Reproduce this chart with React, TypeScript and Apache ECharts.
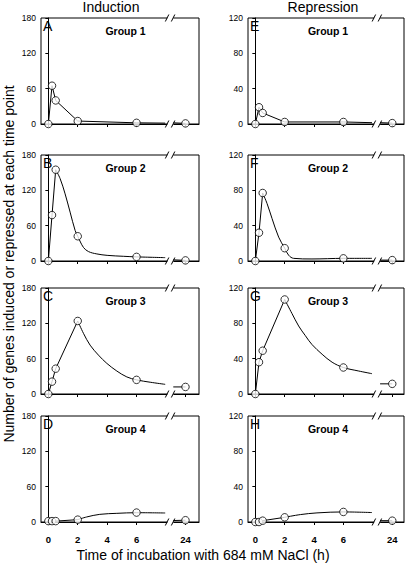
import React, { useEffect, useRef } from 'react';
import * as echarts from 'echarts';

// ---- data ----
const TIMES = [0, 0.25, 0.5, 2, 6, 24];
const X_TICKS = [0, 2, 4, 6, 24];
const COLUMN_TITLES = ['Induction', 'Repression'];
const PANEL_LETTERS = ['A', 'B', 'C', 'D', 'E', 'F', 'G', 'H'];
const GROUP_NAMES = ['Group 1', 'Group 2', 'Group 3', 'Group 4'];
const Y_MAX = [180, 120];
const Y_STEP = [60, 40];

const induction1 = [0, 65, 40, 5, 2, 1];
const induction2 = [0, 78, 155, 42, 7, 1];
const induction3 = [0, 21, 43, 124, 24, 12];
const induction4 = [1.5, 1.5, 1.5, 4, 16, 3];
const repression1 = [0, 19, 12.5, 2.3, 2.3, 1];
const repression2 = [0, 32, 77, 14.5, 3, 1];
const repression3 = [0, 36, 49, 107, 30, 11.5];
const repression4 = [0, 0, 1.5, 5.3, 11.4, 1.5];

// fitted curves: [time, value]
const curveInd1 = [[2, 5], [6, 2], [7.95, 1.5]];
const curveInd2 = [[0.5, 155], [0.8, 140], [1.14, 114], [1.48, 83], [1.82, 52], [2, 42], [2.39, 23], [2.73, 16], [3.3, 12], [4, 9.6], [5.1, 8], [6, 7], [7.95, 5.7]];
const curveInd3 = [[2, 124], [2.39, 103], [2.84, 83], [3.41, 66], [3.98, 52], [4.66, 39], [5.34, 29], [6, 24], [6.93, 20], [7.95, 16.4]];
const curveInd4 = [[2, 4], [2.6, 8.5], [3.5, 13], [4.66, 14.7], [6, 15.8], [7.95, 15.3]];
const curveRep1 = [[2, 2.3], [6, 2.3], [7.95, 1.5]];
const curveRep2 = [[0.5, 77], [0.8, 65], [1.14, 48], [1.59, 27], [2, 14.5], [2.27, 6.5], [2.61, 3], [3.86, 2.3], [6, 3], [7.95, 3]];
const curveRep3 = [[2, 107], [2.5, 91], [2.95, 77], [3.41, 66], [3.86, 56], [4.55, 45], [5.23, 36], [6, 30], [7.05, 26], [7.95, 23]];
const curveRep4 = [[2, 5.3], [3.07, 8.4], [4.2, 10.3], [6, 11.4], [7.95, 10.7]];

// value where the line resumes right after the axis break
const tailStartInd = [2, 2, 12, 2.5];
const tailStartRep = [1.5, 1, 11.5, 1.5];
// number of leading points joined by straight segments
const riseCountInd = [4, 3, 4, 4];
const riseCountRep = [4, 3, 4, 4];
const smoothInd = [false, true, true, true];
const smoothRep = [false, true, true, true];

// ---- layout ----
const POS_24 = 9.33; // plotting position of 24 h beyond the axis break
const BREAK_POS = 8.3;
const TAIL_POS = 8.5;
const FONT = '"Liberation Sans", Arial, Helvetica, sans-serif';
const ROW_TOPS = [18, 155, 288, 416];
const GRID_H = 106;
const COL_LEFT = [41, 248];
const COL_W = [158, 156];
const COL_XMAX = [10.25, 10.13];

const pos = (t: number) => (t === 24 ? POS_24 : t);

const values = [induction1, induction2, induction3, induction4, repression1, repression2, repression3, repression4];
const curves = [curveInd1, curveInd2, curveInd3, curveInd4, curveRep1, curveRep2, curveRep3, curveRep4];
const tailStarts = [...tailStartInd, ...tailStartRep];
const riseCounts = [...riseCountInd, ...riseCountRep];
const smooths = [...smoothInd, ...smoothRep];

export default function App() {
  const ref = useRef<HTMLDivElement>(null);
  useEffect(() => {
    const chart = echarts.init(ref.current!, null, { renderer: 'svg' });
    const grid: any[] = [];
    const xAxis: any[] = [];
    const yAxis: any[] = [];
    const series: any[] = [];
    const graphic: any[] = [];

    for (let i = 0; i < 8; i++) {
      const col = i < 4 ? 0 : 1;
      const row = i % 4;
      grid.push({
        left: COL_LEFT[col], top: ROW_TOPS[row], width: COL_W[col], height: GRID_H,
        show: true, borderColor: '#000', borderWidth: 1, backgroundColor: 'transparent',
      });
      xAxis.push({
        gridIndex: i, type: 'value', min: -0.5, max: COL_XMAX[col],
        axisLine: { show: true, onZero: false, lineStyle: { color: '#000', width: 1 } },
        axisTick: { show: true, inside: false, length: 3, customValues: X_TICKS.map(pos), lineStyle: { color: '#000' } },
        axisLabel: {
          show: row === 3, customValues: X_TICKS.map(pos), margin: 12,
          formatter: (v: number) => (Math.abs(v - POS_24) < 0.01 ? '24' : String(v)),
          fontSize: 9.5, fontWeight: 'bold', color: '#000', fontFamily: FONT,
        },
        splitLine: { show: false },
      });
      yAxis.push({
        gridIndex: i, type: 'value', min: 0, max: Y_MAX[col], interval: Y_STEP[col],
        axisLine: { show: true, lineStyle: { color: '#000', width: 1 } },
        axisTick: { show: true, inside: false, length: 3, lineStyle: { color: '#000' } },
        axisLabel: { fontSize: 8.5, color: '#000', fontFamily: FONT, margin: 5 },
        splitLine: { show: false },
      });
      const v = values[i];
      const rise = TIMES.slice(0, riseCounts[i]).map((t, k) => [pos(t), v[k]]);
      series.push({
        type: 'line', xAxisIndex: i, yAxisIndex: i, data: rise, symbol: 'none', smooth: false,
        lineStyle: { color: '#000', width: 1 }, z: 2,
      });
      series.push({
        type: 'line', xAxisIndex: i, yAxisIndex: i, data: curves[i], symbol: 'none',
        smooth: smooths[i] ? 0.35 : false,
        lineStyle: { color: '#000', width: 1 }, z: 2,
      });
      series.push({
        type: 'line', xAxisIndex: i, yAxisIndex: i, data: [[TAIL_POS, tailStarts[i]], [POS_24, v[5]]],
        symbol: 'none', lineStyle: { color: '#000', width: 1 }, z: 2,
      });
      series.push({
        type: 'custom', xAxisIndex: i, yAxisIndex: i, data: [[BREAK_POS, 0]], clip: false, silent: true, z: 4,
        renderItem: (params: any, api: any) => {
          const cs = params.coordSys;
          const x = api.coord([BREAK_POS, 0])[0];
          const make = (y: number) => [
            { type: 'rect', shape: { x: x - 3, y: y - 1.5, width: 6, height: 3 }, style: { fill: '#fff' } },
            { type: 'line', shape: { x1: x - 5, y1: y + 3.5, x2: x - 1.5, y2: y - 3.5 }, style: { stroke: '#000', lineWidth: 1 } },
            { type: 'line', shape: { x1: x + 1, y1: y + 3.5, x2: x + 4.5, y2: y - 3.5 }, style: { stroke: '#000', lineWidth: 1 } },
          ];
          return { type: 'group', children: [...make(cs.y), ...make(cs.y + cs.height)] };
        },
      });
      series.push({
        type: 'scatter', xAxisIndex: i, yAxisIndex: i, data: TIMES.map((t, k) => [pos(t), v[k]]),
        symbol: 'circle', symbolSize: 7.5,
        itemStyle: { color: '#fff', borderColor: '#000', borderWidth: 1 }, z: 5,
      });
      graphic.push({
        type: 'text', x: COL_LEFT[col] + 2, y: ROW_TOPS[row] + 1,
        style: { text: PANEL_LETTERS[i], fontSize: 14, fill: '#000', fontFamily: FONT, align: 'left', verticalAlign: 'top' },
      });
      graphic.push({
        type: 'text', x: col === 0 ? 125.5 : 328, y: ROW_TOPS[row] + 12.7,
        style: { text: GROUP_NAMES[row], fontSize: 10.5, fontWeight: 'bold', fill: '#000', fontFamily: FONT, align: 'center', verticalAlign: 'middle' },
      });
    }
    graphic.push({
      type: 'text', x: 111, y: 7,
      style: { text: COLUMN_TITLES[0], fontSize: 14, fill: '#000', fontFamily: FONT, align: 'center', verticalAlign: 'middle' },
    });
    graphic.push({
      type: 'text', x: 323, y: 7,
      style: { text: COLUMN_TITLES[1], fontSize: 14, fill: '#000', fontFamily: FONT, align: 'center', verticalAlign: 'middle' },
    });
    graphic.push({
      type: 'text', x: 203, y: 555,
      style: { text: 'Time of incubation with 684 mM NaCl (h)', fontSize: 14, fill: '#000', fontFamily: FONT, align: 'center', verticalAlign: 'middle' },
    });
    graphic.push({
      type: 'text', x: 9, y: 264, rotation: Math.PI / 2,
      style: { text: 'Number of genes induced or repressed at each time point', fontSize: 14, fill: '#000', fontFamily: FONT, align: 'center', verticalAlign: 'middle' },
    });

    chart.setOption({ animation: false, backgroundColor: '#fff', grid, xAxis, yAxis, series, graphic });
    return () => chart.dispose();
  }, []);
  return <div ref={ref} style={{ position: 'fixed', left: 0, top: 0, width: 406, height: 566 }} />;
}
